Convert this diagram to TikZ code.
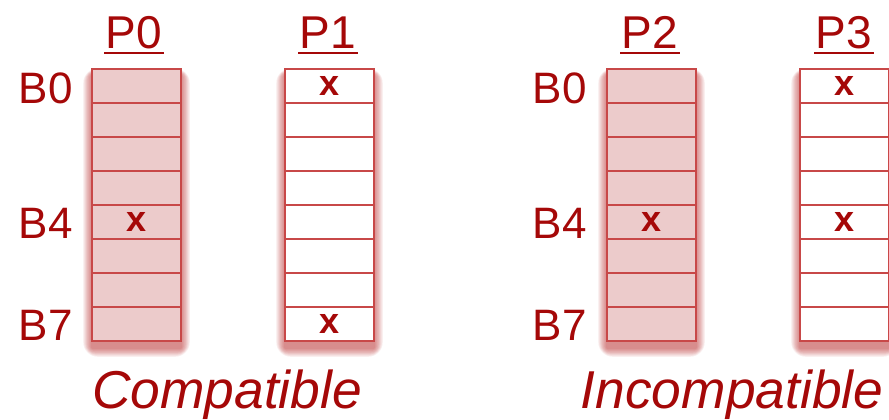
\documentclass[tikz,border=0pt]{standalone}
\usepackage{fontspec}
\setmainfont{Liberation Sans}
\definecolor{txt}{RGB}{165,8,8}
\definecolor{edgec}{RGB}{200,72,72}
\definecolor{pinkfill}{RGB}{236,203,203}
\definecolor{shad}{RGB}{175,20,20}
\tikzset{
  plabel/.style={text=txt, inner sep=0pt, font=\fontsize{34.5}{36}\selectfont},
  blabel/.style={text=txt, inner sep=0pt, font=\fontsize{33}{35}\selectfont},
  xmark/.style={text=txt, inner sep=0pt, font=\bfseries\fontsize{27}{29}\selectfont},
  caption/.style={text=txt, inner sep=0pt, font=\itshape\fontsize{40}{42}\selectfont},
  uline/.style={draw=txt, line width=2.2pt},
  rowline/.style={draw=edgec, line width=1.3pt},
  boxline/.style={draw=edgec, line width=1.8pt},
}
\newcommand\regcol[4]{%
  \foreach \s in {1,...,11} {
    \fill[shad, opacity=0.06, rounded corners=\s pt]
      ({#2-\s*0.8},{69+6-\s*0.6}) rectangle ({#2+89+\s*0.8},{341+7+\s*0.8});
  }
  \fill[#3] (#2,69) rectangle ({#2+89},341);
  \foreach \k in {1,...,7} {
    \draw[rowline] (#2,{69+34*\k}) -- ({#2+89},{69+34*\k});
  }
  \draw[boxline] (#2,69) rectangle ({#2+89},341);
  \foreach \k in {#4} {
    \node[xmark] (#1x\k) at ({#2+44.5},{69+34*\k-17.5}) {x};
  }
}
\newcommand\plab[3]{%
  \node[plabel, anchor=base] (#1) at (#2,48) {#3};
  \coordinate (#1ul) at ({#2-30},53);
  \coordinate (#1ur) at ({#2+30},53);
  \draw[uline] (#1ul) -- (#1ur);
}
\begin{document}
\begin{tikzpicture}[x=0.75pt,y=-0.75pt]
\useasboundingbox (0,0) rectangle (889,419);
\clip (0,0) rectangle (889,419);

\regcol{pz}{92}{pinkfill}{5}
\regcol{po}{285}{white}{1,8}
\regcol{pt}{607}{pinkfill}{5}
\regcol{ph}{800}{white}{1,5}

\plab{P0}{134}{P0}
\plab{P1}{328}{P1}
\plab{P2}{650}{P2}
\plab{P3}{844}{P3}

\node[blabel, anchor=base east] (lb0) at (73,103) {B0};
\node[blabel, anchor=base east] (lb4) at (73,238) {B4};
\node[blabel, anchor=base east] (lb7) at (73,340) {B7};
\node[blabel, anchor=base east] (rb0) at (587,103) {B0};
\node[blabel, anchor=base east] (rb4) at (587,238) {B4};
\node[blabel, anchor=base east] (rb7) at (587,340) {B7};

\node[caption, anchor=base] (comp) at (227,408) {Compatible};
\node[caption, anchor=base] (incomp) at (732,408) {Incompatible};
\end{tikzpicture}
\end{document}
